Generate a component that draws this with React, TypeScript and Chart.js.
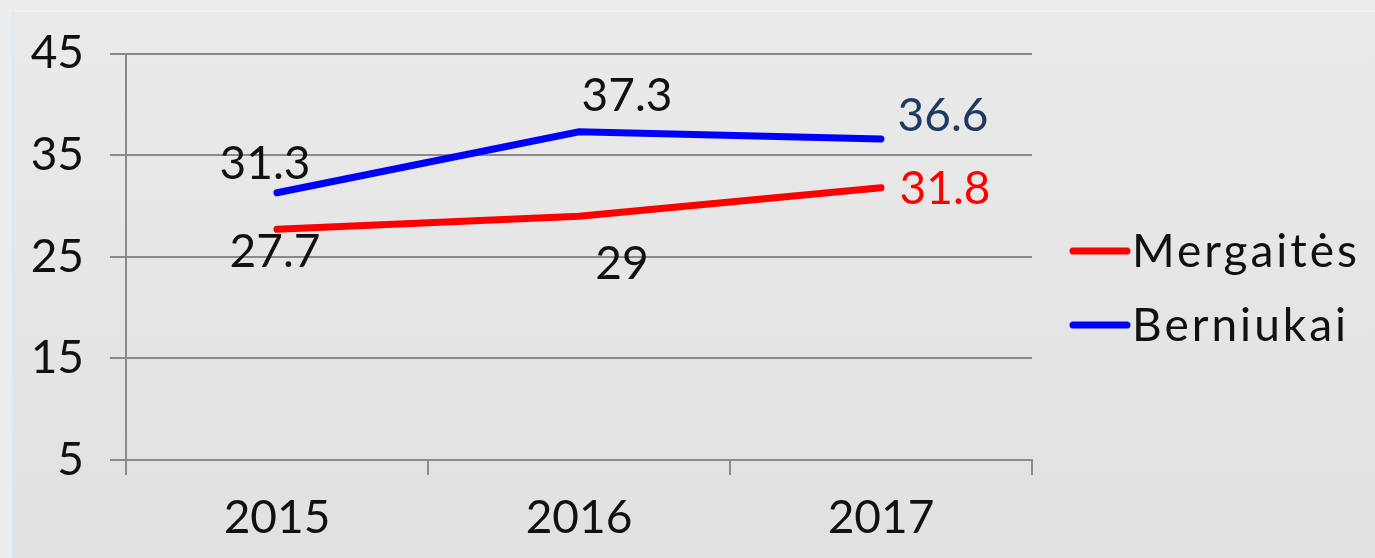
import React, { useEffect, useRef } from "react";
import { Chart, registerables } from "chart.js";

Chart.register(...registerables);

const categories = ["2015", "2016", "2017"];
const girls = [27.7, 29, 31.8];
const boys = [31.3, 37.3, 36.6];
const seriesNames = ["Mergaitės", "Berniukai"];
const yTicks = [5, 15, 25, 35, 45];

const FONT = "Lato, 'DejaVu Sans', sans-serif";
const FS = 46;

// label placement offsets (px) per dataset / point
const labelOffsets = [
  [[-2, 23], [43, 48], [64, 1]],
  [[-12, -29], [48, -36], [62, -23]],
];
const labelColors = [
  ["#111", "#111", "#FF0000"],
  ["#111", "#111", "#1F3864"],
];

const dataLabelPlugin = {
  id: "dataLabels",
  afterDatasetsDraw(chart: any) {
    const ctx = chart.ctx;
    ctx.save();
    ctx.font = `${FS}px ${FONT}`;
    ctx.textAlign = "center";
    ctx.textBaseline = "middle";
    chart.data.datasets.forEach((ds: any, di: number) => {
      const meta = chart.getDatasetMeta(di);
      meta.data.forEach((pt: any, i: number) => {
        const [dx, dy] = labelOffsets[di][i];
        ctx.fillStyle = labelColors[di][i];
        ctx.fillText(String(ds.data[i]), pt.x + dx, pt.y + dy);
      });
    });
    ctx.restore();
  },
};

const legendPlugin = {
  id: "customLegend",
  afterDraw(chart: any) {
    const ctx = chart.ctx;
    const area = chart.chartArea;
    const x0 = area.right + 41;
    const ys = [251, 325];
    ctx.save();
    ctx.font = `${FS}px ${FONT}`;
    ctx.textBaseline = "middle";
    ctx.textAlign = "left";
    try {
      (ctx as any).letterSpacing = "3px";
    } catch (e) {}
    chart.data.datasets.forEach((ds: any, di: number) => {
      const y = ys[di];
      ctx.strokeStyle = ds.borderColor;
      ctx.lineWidth = 7;
      ctx.lineCap = "round";
      ctx.beginPath();
      ctx.moveTo(x0, y);
      ctx.lineTo(x0 + 54, y);
      ctx.stroke();
      ctx.fillStyle = "#111";
      ctx.fillText(ds.label, x0 + 59, y + 1);
    });
    ctx.restore();
  },
};

export default function App() {
  const ref = useRef<HTMLCanvasElement>(null);
  useEffect(() => {
    document.body.style.margin = "0";
    const chart = new Chart(ref.current!, {
      type: "line",
      data: {
        labels: categories,
        datasets: [
          {
            label: seriesNames[0],
            data: girls,
            borderColor: "#FF0000",
            backgroundColor: "#FF0000",
            borderWidth: 7,
            borderCapStyle: "round",
            pointRadius: 0,
            tension: 0,
          },
          {
            label: seriesNames[1],
            data: boys,
            borderColor: "#0000FF",
            backgroundColor: "#0000FF",
            borderWidth: 7,
            borderCapStyle: "round",
            pointRadius: 0,
            tension: 0,
          },
        ],
      },
      options: {
        animation: false,
        responsive: false,
        maintainAspectRatio: false,
        layout: { padding: { left: 0, top: 47, right: 343, bottom: 0 } },
        plugins: { legend: { display: false }, tooltip: { enabled: false } },
        scales: {
          x: {
            offset: true,
            grid: {
              offset: true,
              drawOnChartArea: false,
              tickLength: 15,
              color: "#8A8A8A",
              lineWidth: 2,
            },
            border: { display: true, color: "#8A8A8A", width: 2 },
            ticks: { color: "#111", font: { family: FONT, size: FS }, padding: 16 },
            afterFit(scale: any) {
              scale.height = 98;
            },
          },
          y: {
            min: 5,
            max: 45,
            afterBuildTicks(scale: any) {
              scale.ticks = yTicks.map((v) => ({ value: v }));
            },
            grid: { color: "#8A8A8A", lineWidth: 2, tickLength: 16 },
            border: { display: true, color: "#8A8A8A", width: 2 },
            ticks: { color: "#111", font: { family: FONT, size: FS }, padding: 26 },
            afterFit(scale: any) {
              scale.width = 126;
            },
          },
        },
      },
      plugins: [dataLabelPlugin, legendPlugin],
    } as any);
    return () => chart.destroy();
  }, []);
  return (
    <div
      style={{
        position: "absolute",
        left: 0,
        top: 0,
        width: 1375,
        height: 558,
        background: "#EDEDED",
        overflow: "hidden",
      }}
    >
      <div
        style={{
          position: "absolute",
          left: 12,
          top: 11,
          width: 1363,
          height: 547,
          background: "linear-gradient(#EAEAEA, #E1E1E1)",
          borderLeft: "1px solid #DCE4F0",
          borderTop: "1px solid #F3F3F3",
        }}
      />
      <canvas ref={ref} width={1375} height={558} style={{ position: "absolute", left: 0, top: 0 }} />
    </div>
  );
}
